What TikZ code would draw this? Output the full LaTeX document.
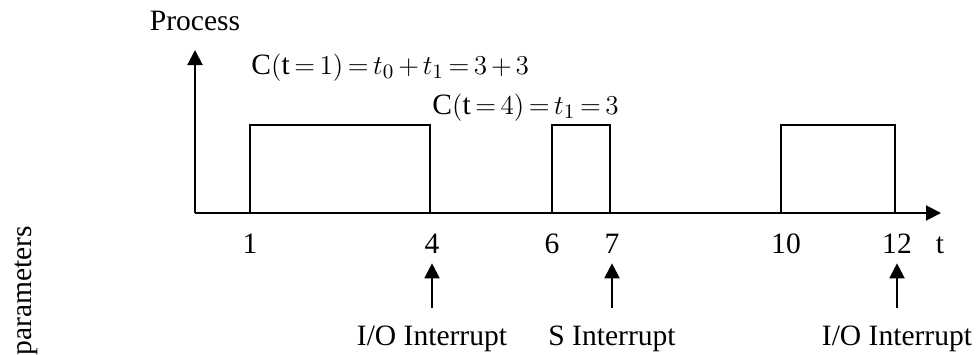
\documentclass[tikz,border=0pt]{standalone}
\usepackage{fontspec}
\setmainfont{Liberation Serif}
\usepackage{tikz}
\usetikzlibrary{
  arrows.meta,
  positioning
}
\tikzset{
  axis/.style = {
    -{Triangle[length=6.6pt, width=6.6pt]},
    line width=0.9pt
  },
  burst/.style = {draw, line width=0.9pt},
  tick/.style = {anchor=base},
  formula/.style = {
    anchor=base west,
    inner sep=0pt,
    execute at begin node={\thickmuskip=3mu\medmuskip=2.5mu}
  }
}

\begin{document}
\begin{tikzpicture}[
    x=0.44pt,
    y=-0.44pt,
    every node/.style={
        font=\fontsize{13pt}{15pt}\selectfont
    }
]
    \useasboundingbox (0,0) rectangle (980,354);

    % Axes
    \coordinate (origin) at (195,213);
    \coordinate (ytip) at (195,50);
    \coordinate (xtip) at (941,213);
    \draw[axis] (origin) -- (ytip);
    \draw[axis] (origin) -- (xtip);

    \node[above=5pt of ytip] (process) {Process};

    % Process bursts
    \foreach \a/\b in {250/430, 552/610, 781/895} {
        \draw[burst] (\a,213) rectangle (\b,125);
    }

    % Time labels
    \foreach \x/\lbl in {250/1, 432/4, 552/6, 612/7, 786/10, 897/12, 940/t} {
        \node[tick] (t\lbl) at (\x,253) {\lbl};
    }

    % Interrupts
    \foreach \t/\txt in {4/{I/O Interrupt}, 7/{S Interrupt}, 12/{I/O Interrupt}} {
        \node[anchor=base] (irq\t) at (t\t.base |- 0,345) {\txt};
        \draw[axis, shorten <=4pt, shorten >=1pt] (irq\t.north) -- (t\t.south);
    }

    % Costs
    \node[formula] (c1) at (251,74) {$\mathrm{C}(\mathrm{t}=1)=t_0+t_1=3+3$};
    \node[formula] (c4) at (432,114) {$\mathrm{C}(\mathrm{t}=4)=t_1=3$};

    \node[rotate=90, anchor=east] (params) at (26,218) {parameters};

\end{tikzpicture}
\end{document}
